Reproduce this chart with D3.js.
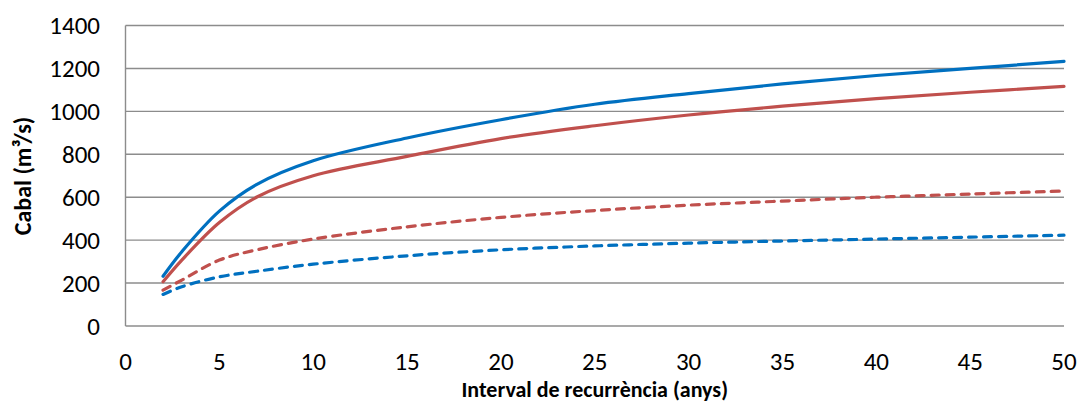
<!DOCTYPE html>
<html><head><meta charset="utf-8">
<script src="https://cdn.jsdelivr.net/npm/d3@7"></script>
<style>body{margin:0;background:#fff}svg{display:block}</style>
</head><body>
<svg id="c" width="1080" height="413"></svg>
<script>
const xValues = [2, 3, 5, 7, 10, 15, 20, 25, 30, 35, 40, 45, 50];
const blueSolid = [232, 346, 535, 660, 770, 876, 961, 1033, 1083, 1128, 1167, 1200, 1233];
const redSolid  = [206, 307, 482, 601, 700, 790, 873, 933, 983, 1024, 1059, 1089, 1116];
const redDashed = [167, 214, 307, 355, 405, 462, 506, 538, 563, 582, 600, 615, 629];
const blueDashed= [147, 183, 229, 255, 288, 327, 355, 373, 386, 396, 405, 414, 423];
const xTicks = [0, 5, 10, 15, 20, 25, 30, 35, 40, 45, 50];
const yTicks = [0, 200, 400, 600, 800, 1000, 1200, 1400];
const xTitle = "Interval de recurrència (anys)";
const yTitle = "Cabal (m³/s)";

const series = [
  {vals: blueSolid, color: "#0070C0", dash: null},
  {vals: redSolid, color: "#C0504D", dash: null},
  {vals: redDashed, color: "#C0504D", dash: "8,7"},
  {vals: blueDashed, color: "#0070C0", dash: "8,7"}
];

const svg = d3.select("#c");
const font = "Carlito, Lato, 'Liberation Sans', sans-serif";
const x = d3.scaleLinear().domain([0, 50]).range([125.5, 1064]);
const y = d3.scaleLinear().domain([0, 1400]).range([326, 25.5]);

svg.append("g").selectAll("line").data(yTicks).join("line")
  .attr("x1", x(0)).attr("x2", x(50))
  .attr("y1", d => y(d)).attr("y2", d => y(d))
  .attr("stroke", "#8c8c8c").attr("stroke-width", 1.4);
svg.append("line").attr("x1", x(0)).attr("x2", x(0)).attr("y1", y(1400)).attr("y2", y(0))
  .attr("stroke", "#8c8c8c").attr("stroke-width", 1.4);

svg.append("g").selectAll("text").data(yTicks).join("text")
  .attr("x", 100).attr("y", d => y(d)).attr("dy", "0.35em")
  .attr("text-anchor", "end").attr("font-family", font).attr("font-size", 25)
  .attr("fill", "#000").text(d => d);
svg.append("g").selectAll("text").data(xTicks).join("text")
  .attr("x", d => x(d)).attr("y", 370)
  .attr("text-anchor", "middle").attr("font-family", font).attr("font-size", 25)
  .attr("fill", "#000").text(d => d);

svg.append("text").attr("x", x(25)).attr("y", 397).attr("text-anchor", "middle")
  .attr("font-family", font).attr("font-weight", "bold").attr("font-size", 22)
  .text(xTitle);
svg.append("text").attr("transform", "translate(31,176) rotate(-90)").attr("text-anchor", "middle")
  .attr("font-family", font).attr("font-weight", "bold").attr("font-size", 24)
  .text(yTitle);

const line = d3.line().x((d, i) => x(xValues[i])).y(d => y(d)).curve(d3.curveCatmullRom.alpha(0.5));
svg.append("g").selectAll("path").data(series).join("path")
  .attr("d", d => line(d.vals)).attr("fill", "none")
  .attr("stroke", d => d.color).attr("stroke-width", 3.2)
  .attr("stroke-dasharray", d => d.dash)
  .attr("stroke-linecap", "round");
</script>
</body></html>
